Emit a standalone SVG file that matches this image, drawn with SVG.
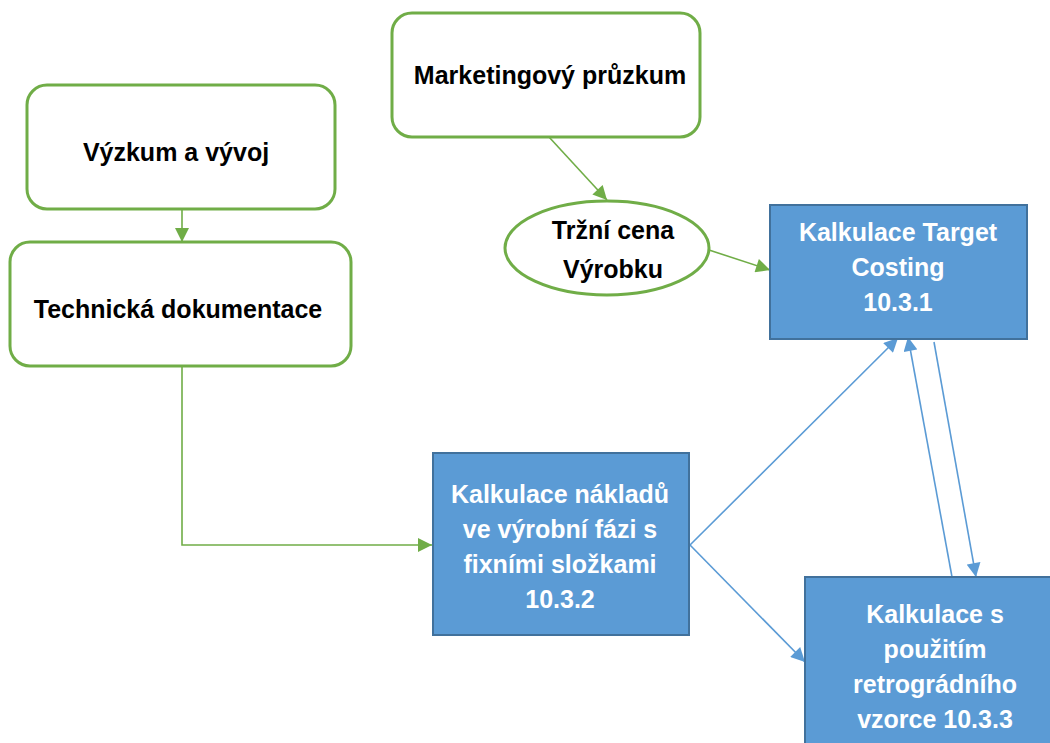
<svg xmlns="http://www.w3.org/2000/svg" width="1050" height="743" viewBox="0 0 1050 743">
<style>
.g{fill:#fff;stroke:#70AD47;stroke-width:3}
.b{fill:#5B9BD5;stroke:#41719C;stroke-width:2}
.t{font-family:"Liberation Sans",Arial,sans-serif;font-weight:bold;font-size:25px;text-anchor:middle;fill:#000}
.w{fill:#fff}
.gl{stroke:#70AD47;stroke-width:1.6;fill:none}
.bl{stroke:#5B9BD5;stroke-width:1.6;fill:none}
</style>
<defs>
<marker id="ga" viewBox="0 0 10 10" refX="10" refY="5" markerWidth="15" markerHeight="14" markerUnits="userSpaceOnUse" orient="auto"><path d="M0,0L10,5L0,10z" fill="#70AD47"/></marker>
<marker id="ba" viewBox="0 0 10 10" refX="10" refY="5" markerWidth="15" markerHeight="14" markerUnits="userSpaceOnUse" orient="auto"><path d="M0,0L10,5L0,10z" fill="#5B9BD5"/></marker>
</defs>
<rect width="1050" height="743" fill="#fff"/>
<g id="connectors">
<path class="gl" d="M182,209V242" marker-end="url(#ga)"/>
<path class="gl" d="M182,366V545H432" marker-end="url(#ga)"/>
<path class="gl" d="M549,137L607,200" marker-end="url(#ga)"/>
<path class="gl" d="M709,250L770,270" marker-end="url(#ga)"/>
<path class="bl" d="M690,545L898,338" marker-end="url(#ba)"/>
<path class="bl" d="M690,545L805,662" marker-end="url(#ba)"/>
<path class="bl" d="M952,577L908,337" marker-end="url(#ba)"/>
<path class="bl" d="M934,342L976,577" marker-end="url(#ba)"/>
</g>
<g id="marketing">
<rect class="g" x="392" y="13" width="308" height="124" rx="20"/>
<text class="t" x="550" y="84">Marketingový průzkum</text>
</g>
<g id="vyzkum">
<rect class="g" x="27" y="85" width="308" height="124" rx="20"/>
<text class="t" x="176" y="161">Výzkum a vývoj</text>
</g>
<g id="technicka">
<rect class="g" x="10" y="242" width="341" height="124" rx="20"/>
<text class="t" x="178" y="318">Technická dokumentace</text>
</g>
<g id="trzni">
<ellipse class="g" cx="607" cy="248" rx="102" ry="47"/>
<text class="t" x="613" y="239">Tržní cena</text>
<text class="t" x="613" y="278">Výrobku</text>
</g>
<g id="target">
<rect class="b" x="770" y="205" width="257" height="134"/>
<text class="t w" x="898" y="241">Kalkulace Target</text>
<text class="t w" x="898" y="276">Costing</text>
<text class="t w" x="898" y="311">10.3.1</text>
</g>
<g id="naklady">
<rect class="b" x="433" y="453" width="256" height="182"/>
<text class="t w" x="560" y="503">Kalkulace nákladů</text>
<text class="t w" x="560" y="538">ve výrobní fázi s</text>
<text class="t w" x="560" y="573">fixními složkami</text>
<text class="t w" x="560" y="608">10.3.2</text>
</g>
<g id="retrograd">
<rect class="b" x="805" y="577" width="250" height="180"/>
<text class="t w" x="935" y="623">Kalkulace s</text>
<text class="t w" x="935" y="658">použitím</text>
<text class="t w" x="935" y="693">retrográdního</text>
<text class="t w" x="935" y="728">vzorce 10.3.3</text>
</g>
</svg>
